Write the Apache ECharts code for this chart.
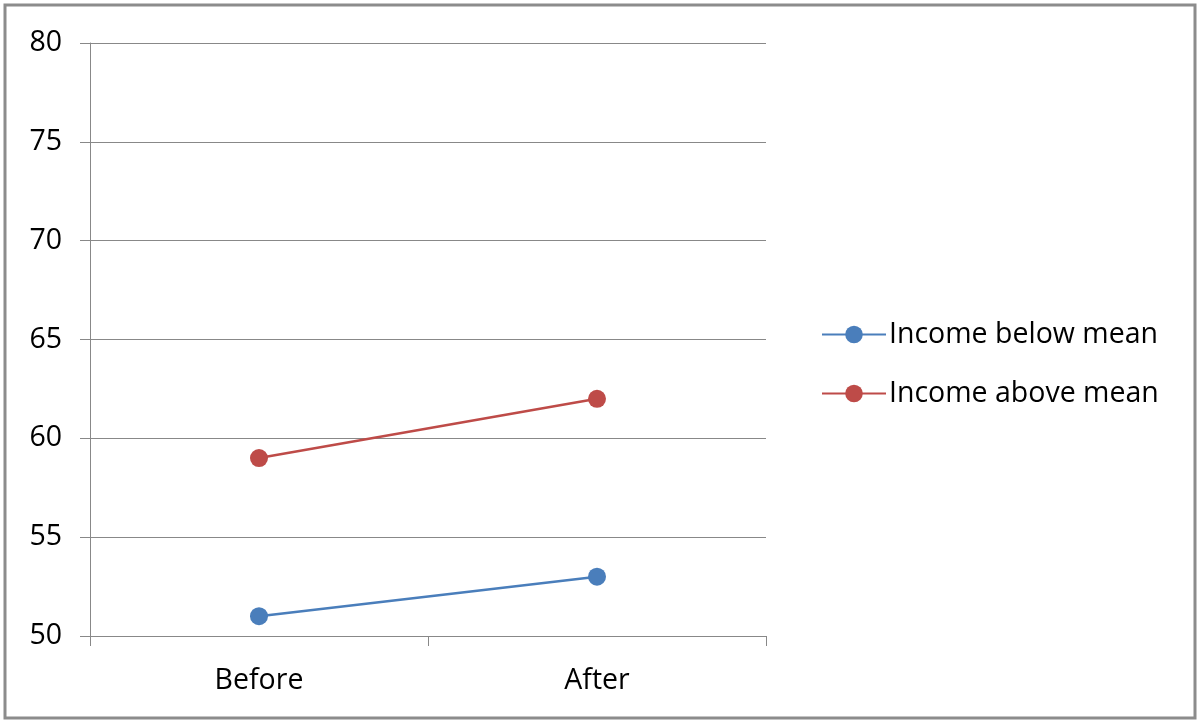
<!DOCTYPE html>
<html><head><meta charset="utf-8">
<script src="https://cdn.jsdelivr.net/npm/echarts@6/dist/echarts.min.js"></script>
<style>html,body{margin:0;padding:0;background:#fff}#c{width:1200px;height:724px}</style>
</head><body><div id="c"></div>
<script>
const categories = ["Before", "After"];
const incomeBelow = [51, 53];
const incomeAbove = [59, 62];
const yTicks = [50, 55, 60, 65, 70, 75, 80];

const font = "'Open Sans', sans-serif";
const chart = echarts.init(document.getElementById('c'));
chart.setOption({
  backgroundColor: '#fff',
  animation: false,
  graphic: [{type:'rect', shape:{x:5,y:5,width:1190,height:713}, style:{fill:'none', stroke:'#8c8c8c', lineWidth:3}}],
  grid: {left: 90, right: 434, top: 43, bottom: 88},
  legend: {
    orient: 'vertical', left: 816, top: 315, itemWidth: 64, itemHeight: 22, itemGap: 30,
    textStyle: {fontFamily: font, fontSize: 28.5, color: '#000', padding:[0,0,0,-2]},
    data: ['Income below mean', 'Income above mean']
  },
  xAxis: {
    type: 'category', data: categories, boundaryGap: true,
    axisLine: {lineStyle: {color: '#888', width: 1}},
    axisTick: {show: true, length: 10, lineStyle: {color: '#888'}},
    axisLabel: {fontFamily: font, fontSize: 28.5, color: '#000', margin: 30}
  },
  yAxis: {
    type: 'value', min: yTicks[0], max: yTicks[yTicks.length-1], interval: 5,
    axisLine: {show: true, lineStyle: {color: '#888', width: 1}},
    axisTick: {show: true, length: 10, lineStyle: {color: '#888'}},
    splitLine: {lineStyle: {color: '#888', width: 1}},
    axisLabel: {fontFamily: font, fontSize: 28.5, color: '#000', margin: 28}
  },
  series: [
    {name: 'Income below mean', type: 'line', data: incomeBelow, symbol: 'circle', symbolSize: 18,
     itemStyle: {color: '#4a7ebb'}, lineStyle: {color: '#4a7ebb', width: 2.5}},
    {name: 'Income above mean', type: 'line', data: incomeAbove, symbol: 'circle', symbolSize: 18,
     itemStyle: {color: '#be4b48'}, lineStyle: {color: '#be4b48', width: 2.5}}
  ]
});
</script></body></html>
